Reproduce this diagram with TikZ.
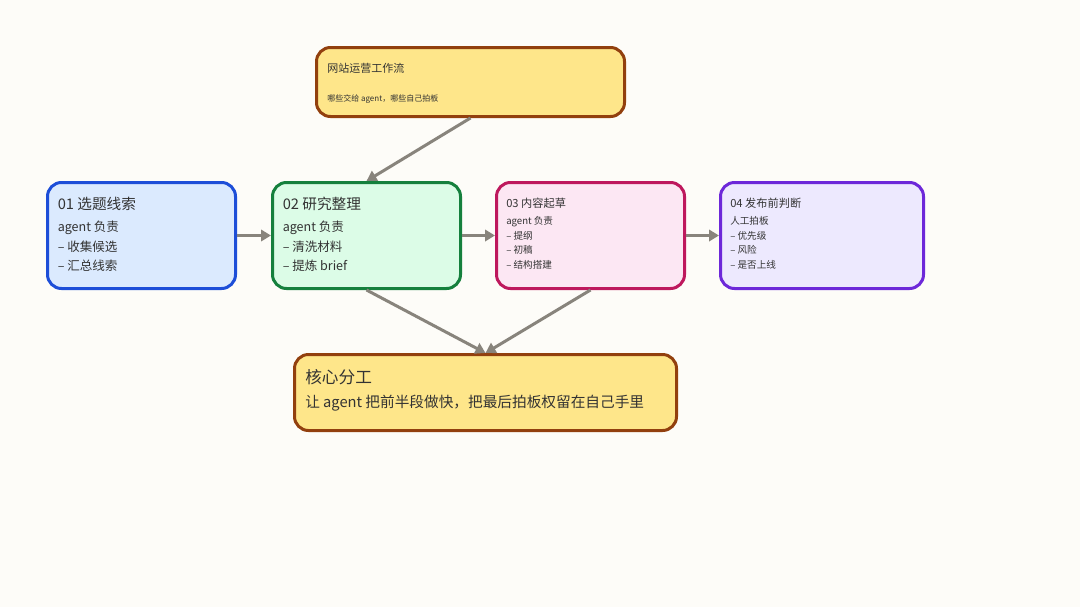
\documentclass[tikz,border=0pt]{standalone}
\usepackage{fontspec}
\usepackage{tikz}
\usetikzlibrary{arrows.meta,calc,positioning}
\newfontfamily\cjk{Noto Sans CJK SC}
\definecolor{paper}{RGB}{253,252,248}
\definecolor{inkcol}{RGB}{51,51,51}
\definecolor{linkcol}{RGB}{136,132,124}
\definecolor{notefill}{RGB}{254,230,138}
\definecolor{notedraw}{RGB}{146,64,14}
\definecolor{bluefill}{RGB}{219,234,254}
\definecolor{bluedraw}{RGB}{29,78,216}
\definecolor{greenfill}{RGB}{220,252,231}
\definecolor{greendraw}{RGB}{21,128,61}
\definecolor{pinkfill}{RGB}{252,231,243}
\definecolor{pinkdraw}{RGB}{190,24,93}
\definecolor{violetfill}{RGB}{237,233,254}
\definecolor{violetdraw}{RGB}{109,40,217}

\begin{document}
\begin{tikzpicture}[x=0.75pt,y=-0.75pt,font=\cjk,>={Triangle[length=7.5pt,width=8.5pt]},
  card/.style={draw, line width=2.25pt, rounded corners=10.5pt, inner sep=0pt,
    minimum width=141pt, minimum height=79.5pt},
  txt/.style={anchor=west, inner sep=0pt, text=inkcol, text height=1em, text depth=0em},
  link/.style={->, draw=linkcol, fill=linkcol, line width=2.25pt}]
  \fill[paper] (0,0) rectangle (1080,607);
  \useasboundingbox (0,0) rectangle (1080,607);

  % boxes
  \node[card, fill=notefill, draw=notedraw, minimum width=231pt, minimum height=51.75pt]
     (flow) at (470.5,82) {};
  \node[card, fill=bluefill, draw=bluedraw] (pick) at (141.5,235.5) {};
  \node[card, fill=greenfill, draw=greendraw] (study) at (366.5,235.5) {};
  \node[card, fill=pinkfill, draw=pinkdraw] (draft) at (590.5,235.5) {};
  \node[card, fill=violetfill, draw=violetdraw, minimum width=152.25pt] (judge) at (822,235.5) {};
  \node[card, fill=notefill, draw=notedraw, minimum width=286.5pt, minimum height=57pt]
     (core) at (485.5,392.5) {};

  % texts
  \node[txt, font=\cjk\fontsize{8.25}{10}\selectfont] (flowT) at ($(flow.north west)+(12,20)$) {网站运营工作流};
  \node[txt, font=\cjk\fontsize{6}{7}\selectfont] (flowS) at ($(flow.north west)+(12,48.5)$) {哪些交给 agent，哪些自己拍板};

  \node[txt, font=\cjk\fontsize{11}{13}\selectfont] (pickT) at ($(pick.north west)+(11.5,21.5)$) {01 选题线索};
  \foreach \dy/\lab [count=\i] in {44/agent 负责,63.5/– 收集候选,82.5/– 汇总线索}
     \node[txt, font=\cjk\fontsize{9.4}{11}\selectfont] (pick\i) at ($(pick.north west)+(11.5,\dy)$) {\lab};

  \node[txt, font=\cjk\fontsize{11}{13}\selectfont] (studyT) at ($(study.north west)+(11.5,21.5)$) {02 研究整理};
  \foreach \dy/\lab [count=\i] in {44/agent 负责,63.5/– 清洗材料,82.5/– 提炼 brief}
     \node[txt, font=\cjk\fontsize{9.4}{11}\selectfont] (study\i) at ($(study.north west)+(11.5,\dy)$) {\lab};

  \node[txt, font=\cjk\fontsize{8.4}{10}\selectfont] (draftT) at ($(draft.north west)+(11,19.5)$) {03 内容起草};
  \foreach \dy/\lab [count=\i] in {36.5/agent 负责,52/– 提纲,66/– 初稿,81/– 结构搭建}
     \node[txt, font=\cjk\fontsize{7.2}{8}\selectfont] (draft\i) at ($(draft.north west)+(11,\dy)$) {\lab};

  \node[txt, font=\cjk\fontsize{8.4}{10}\selectfont] (judgeT) at ($(judge.north west)+(11,19.5)$) {04 发布前判断};
  \foreach \dy/\lab [count=\i] in {36.5/人工拍板,52/– 优先级,66/– 风险,81/– 是否上线}
     \node[txt, font=\cjk\fontsize{7.2}{8}\selectfont] (judge\i) at ($(judge.north west)+(11,\dy)$) {\lab};

  \node[txt, font=\cjk\fontsize{12.5}{14}\selectfont] (coreT) at ($(core.north west)+(12,23.5)$) {核心分工};
  \node[txt, font=\cjk\fontsize{11}{13}\selectfont] (coreS) at ($(core.north west)+(12,48)$) {让 agent 把前半段做快，把最后拍板权留在自己手里};

  % connectors
  \draw[link] (flow.south) -- (study.north);
  \draw[link] (pick.east) -- (study.west);
  \draw[link] (study.east) -- (draft.west);
  \draw[link] (draft.east) -- (judge.west);
  \draw[link] (study.south) -- (core.north);
  \draw[link] (draft.south) -- (core.north);
\end{tikzpicture}
\end{document}
